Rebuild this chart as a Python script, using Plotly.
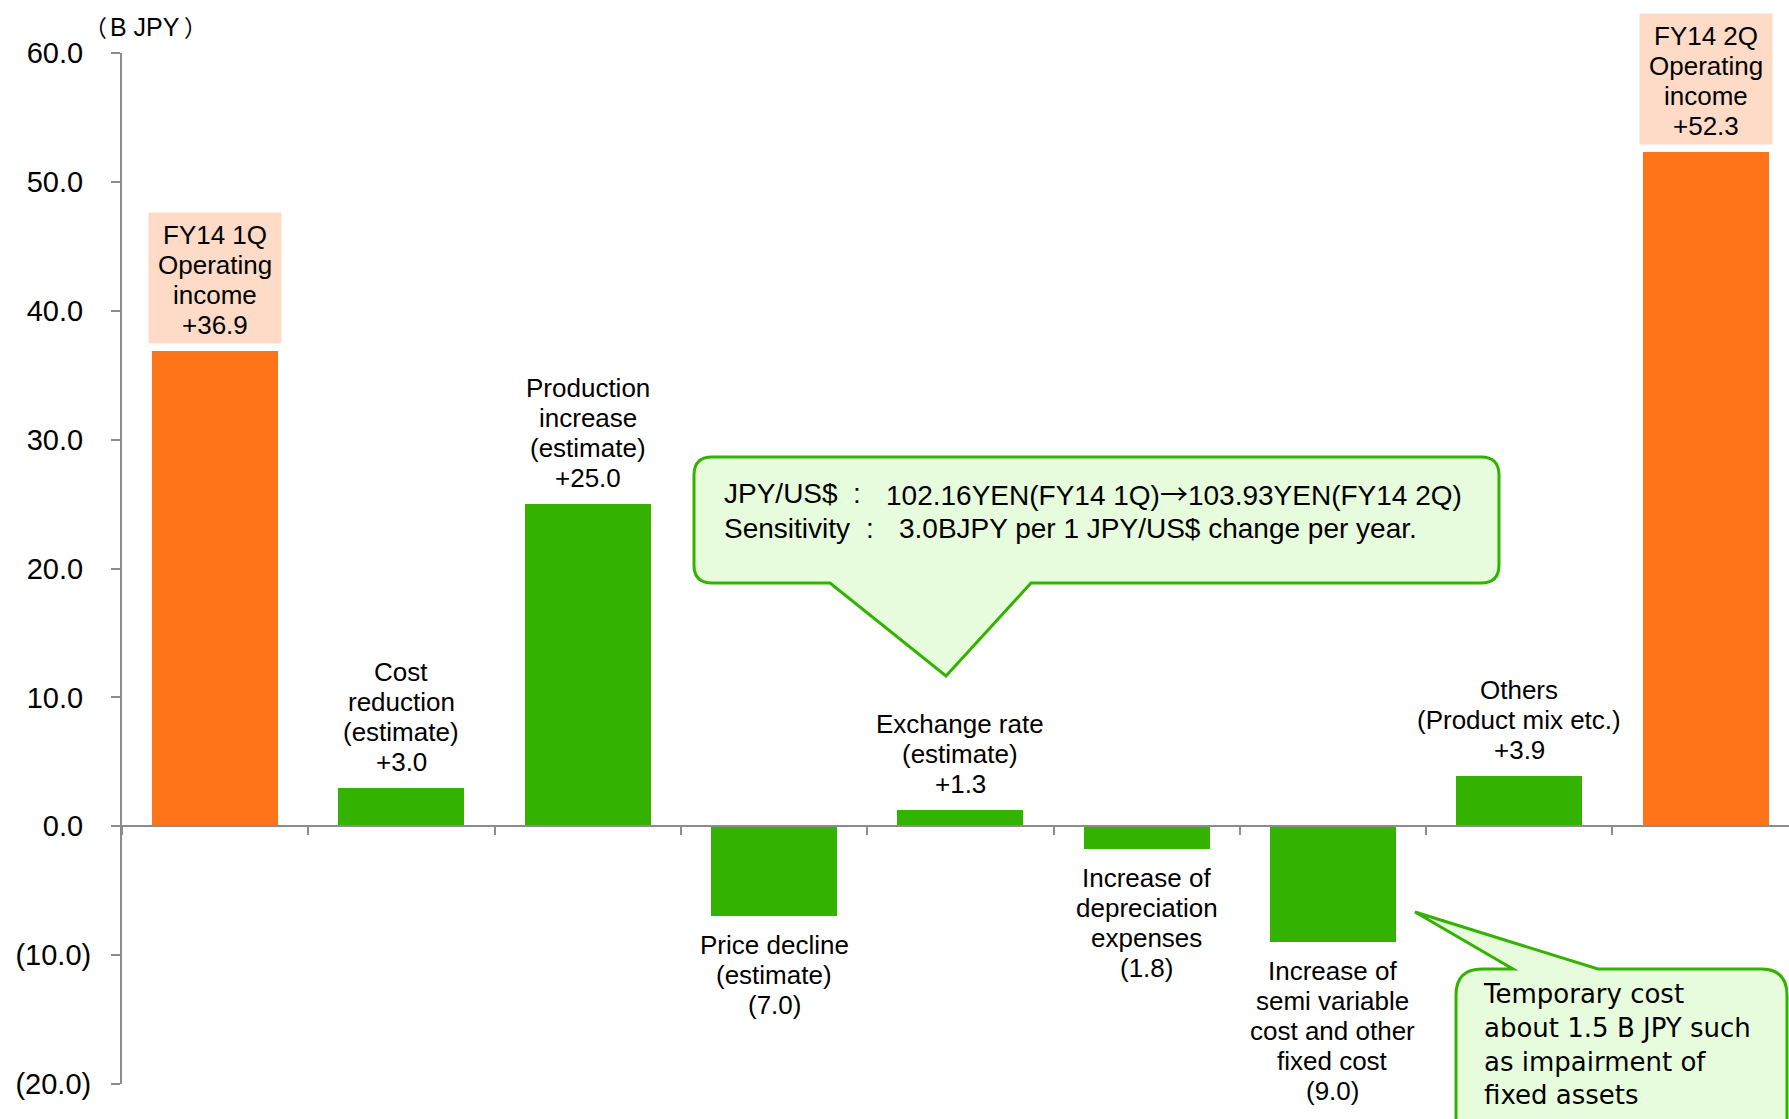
import plotly.graph_objects as go

# ---------------- data ----------------
categories = [
    "FY14 1Q Operating income",
    "Cost reduction (estimate)",
    "Production increase (estimate)",
    "Price decline (estimate)",
    "Exchange rate (estimate)",
    "Increase of depreciation expenses",
    "Increase of semi variable cost and other fixed cost",
    "Others (Product mix etc.)",
    "FY14 2Q Operating income",
]
values = [36.9, 3.0, 25.0, -7.0, 1.3, -1.8, -9.0, 3.9, 52.3]
is_total = [True, False, False, False, False, False, False, False, True]
label_lines = [
    ["FY14 1Q", "Operating", "income"],
    ["Cost", "reduction", "(estimate)"],
    ["Production", "increase", "(estimate)"],
    ["Price decline", "(estimate)"],
    ["Exchange rate", "(estimate)"],
    ["Increase of", "depreciation", "expenses"],
    ["Increase of", "semi variable", "cost and other", "fixed cost"],
    ["Others", "(Product mix etc.)"],
    ["FY14 2Q", "Operating", "income"],
]
y_ticks = [-20, -10, 0, 10, 20, 30, 40, 50, 60]
unit_label = ["（", "B JPY", "）"]
fx_line1 = ["JPY/US$", ":", "102.16YEN(FY14 1Q)", "→", "103.93YEN(FY14 2Q)"]
fx_line2 = ["Sensitivity", ":", "3.0BJPY per 1 JPY/US$ change per year."]
temp_note = ["Temporary cost", "about 1.5 B JPY such", "as impairment of", "fixed assets"]

# ---------------- style ----------------
W, H = 1789, 1119
ML, MR, MT, MB = 122, 0, 53, 35
PW, PH = W - ML - MR, H - MT - MB
CAT_W = 186.3
ORANGE = "#FF7319"
GREEN = "#33B200"
PEACH = "#FDDBC7"
LIGHT_GREEN = "#E6FCDC"
AXIS = "#8C8C8C"
FONT = "Liberation Sans, Arial, sans-serif"
CJK = "Noto Sans CJK JP"


def fmt(v):
    return f"+{v:.1f}" if v >= 0 else f"({abs(v):.1f})"


def tick_fmt(v):
    return f"{v:.1f}\u00a0" if v >= 0 else f"({abs(v):.1f})"


def px(xp):
    return (xp - ML) / PW


def py(yp):
    return (MT + PH - yp) / PH


def rounded_path(pts):
    """pts: list of (x, y, r) pixel corners in order; r = corner radius (0 = sharp)."""
    n = len(pts)
    segs = []

    def toward(ax, ay, bx, by, d):
        dx, dy = bx - ax, by - ay
        ln = (dx * dx + dy * dy) ** 0.5
        return ax + dx / ln * d, ay + dy / ln * d

    for i in range(n):
        x, y, r = pts[i]
        if r == 0:
            segs.append(("L", (x, y)))
            continue
        xp, yp, _ = pts[i - 1]
        xn, yn, _ = pts[(i + 1) % n]
        a = toward(x, y, xp, yp, r)
        b = toward(x, y, xn, yn, r)
        segs.append(("L", a))
        segs.append(("Q", (x, y), b))
    out = []
    for k, s in enumerate(segs):
        cmd = "M" if k == 0 else s[0]
        if s[0] == "L":
            out.append(f"{cmd} {px(s[1][0]):.5f},{py(s[1][1]):.5f}")
        else:
            out.append(f"Q {px(s[1][0]):.5f},{py(s[1][1]):.5f} {px(s[2][0]):.5f},{py(s[2][1]):.5f}")
    return " ".join(out) + " Z"


colors = [ORANGE if t else GREEN for t in is_total]

fig = go.Figure(
    go.Bar(
        x=categories,
        y=values,
        marker=dict(color=colors, line=dict(width=0)),
        width=126 / CAT_W,
        hoverinfo="skip",
    )
)

annotations = []
LS = 30
LFS = 26
for i, (cat, v, lines, tot) in enumerate(zip(categories, values, label_lines, is_total)):
    all_lines = lines + [fmt(v)]
    n = len(all_lines)
    if tot:
        annotations.append(dict(
            x=cat, y=v, xref="x", yref="y", yanchor="bottom", yshift=7,
            text="\u00a0", showarrow=False,
            bgcolor=PEACH, width=128, height=126, borderpad=2,
            font=dict(family=FONT, size=10, color="#000000"),
        ))
    for k, ln in enumerate(all_lines):
        if v >= 0:
            shift = 26 + (n - 1 - k) * LS
        else:
            shift = -(29 + k * LS)
        annotations.append(dict(
            x=cat, y=v, xref="x", yref="y", yanchor="middle", yshift=shift,
            text=ln, showarrow=False,
            font=dict(family=FONT, size=LFS, color="#000000"),
        ))

# unit label: full-width parentheses in CJK font around Latin text
annotations.append(dict(
    x=px(109), y=py(27), xref="paper", yref="paper", xanchor="right", yanchor="middle",
    text=unit_label[0], showarrow=False, font=dict(family=CJK, size=23, color="#000000"),
))
annotations.append(dict(
    x=px(108), y=py(27), xref="paper", yref="paper", xanchor="left", yanchor="middle",
    text=unit_label[1], showarrow=False, font=dict(family=FONT, size=25, color="#000000"),
))
annotations.append(dict(
    x=px(182), y=py(27), xref="paper", yref="paper", xanchor="left", yanchor="middle",
    text=unit_label[2], showarrow=False, font=dict(family=CJK, size=23, color="#000000"),
))

# exchange rate callout text
line1_text = (f"{fx_line1[2]}<span style='font-family:{CJK}'>{fx_line1[3]}</span>{fx_line1[4]}")
for (xs, yc, parts) in [((722, 857, 884), 493, [fx_line1[0], fx_line1[1], line1_text]),
                        ((722, 870, 897), 528, fx_line2)]:
    for xp, part, anchor in zip(xs, parts, ["left", "center", "left"]):
        annotations.append(dict(
            x=px(xp), y=py(yc), xref="paper", yref="paper", xanchor=anchor, yanchor="middle",
            text=part, showarrow=False, font=dict(family=FONT, size=28, color="#000000"),
        ))

# temporary cost callout text
annotations.append(dict(
    x=px(1481), y=py(1044), xref="paper", yref="paper", xanchor="left", yanchor="middle",
    text="<br>".join(temp_note), align="left", showarrow=False,
    font=dict(family="DejaVu Sans, Verdana, sans-serif", size=26, color="#000000"),
))

shapes = []
r = 18
shapes.append(dict(
    type="path", xref="paper", yref="paper", layer="above",
    path=rounded_path([
        (694, 457, r), (1499, 457, r), (1499, 583, r),
        (1031, 583, 0), (946, 676, 0), (830, 583, 0), (694, 583, r),
    ]),
    fillcolor=LIGHT_GREEN, line=dict(color=GREEN, width=3),
))
r2 = 26
shapes.append(dict(
    type="path", xref="paper", yref="paper", layer="above",
    path=rounded_path([
        (1456, 969, r2), (1513, 969, 0), (1415, 912, 0), (1598, 969, 0),
        (1787, 969, r2), (1787, 1170, 0), (1456, 1170, 0),
    ]),
    fillcolor=LIGHT_GREEN, line=dict(color=GREEN, width=3),
))

fig.update_layout(
    width=W, height=H,
    margin=dict(l=ML, r=MR, t=MT, b=MB, pad=0),
    paper_bgcolor="white", plot_bgcolor="white",
    showlegend=False,
    annotations=annotations,
    shapes=shapes,
    bargap=0,
    xaxis=dict(
        type="category", range=[-0.5, -0.5 + PW / CAT_W],
        anchor="free", position=(0 - y_ticks[0]) / (y_ticks[-1] - y_ticks[0]),
        showline=True, linecolor=AXIS, linewidth=2,
        ticks="outside", tickson="boundaries", ticklen=8, tickwidth=2, tickcolor=AXIS,
        showticklabels=False, showgrid=False, zeroline=False,
    ),
    yaxis=dict(
        range=[y_ticks[0], y_ticks[-1]],
        showline=True, linecolor=AXIS, linewidth=2,
        ticks="outside", ticklen=9, tickwidth=2, tickcolor=AXIS,
        tickvals=y_ticks, ticktext=[tick_fmt(v) for v in y_ticks],
        tickfont=dict(family=FONT, size=29, color="#000000"),
        ticklabelstandoff=14,
        showgrid=False, zeroline=False,
    ),
)

fig.write_html("out.html")
